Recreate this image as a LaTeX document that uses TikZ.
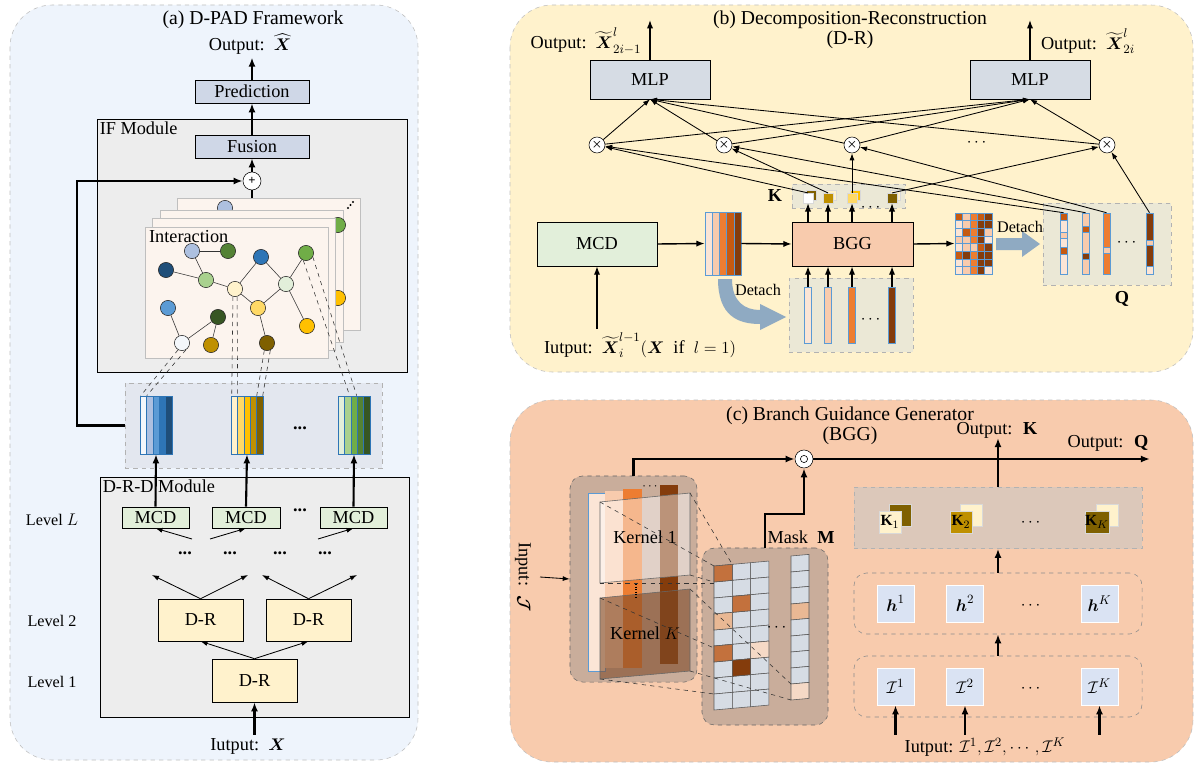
\documentclass[tikz,border=0pt]{standalone}
\usepackage{fontspec}
\setmainfont{Liberation Serif}
\usepackage{amsmath}
\usetikzlibrary{arrows.meta,positioning,calc}

\definecolor{bA}{HTML}{F4F7FB}
\definecolor{bB}{HTML}{ADC0E0}
\definecolor{bC}{HTML}{5B9BD5}
\definecolor{bD}{HTML}{2E75B6}
\definecolor{bE}{HTML}{1F4E79}
\definecolor{yA}{HTML}{FFF2CC}
\definecolor{yB}{HTML}{FFD966}
\definecolor{yC}{HTML}{FFC000}
\definecolor{yD}{HTML}{BF9000}
\definecolor{yE}{HTML}{7F6000}
\definecolor{gA}{HTML}{E2EFDA}
\definecolor{gB}{HTML}{A9D18E}
\definecolor{gC}{HTML}{70AD47}
\definecolor{gD}{HTML}{548235}
\definecolor{gE}{HTML}{375623}
\definecolor{oA}{HTML}{FBE5D6}
\definecolor{oB}{HTML}{F8CBAD}
\definecolor{oC}{HTML}{ED7D31}
\definecolor{oD}{HTML}{C55A11}
\definecolor{oE}{HTML}{843C0C}
\definecolor{panelA}{HTML}{EEF4FC}
\definecolor{panelB}{HTML}{FFF2CC}
\definecolor{panelC}{HTML}{F8CBAD}
\definecolor{modgray}{HTML}{EDEDED}
\definecolor{predblue}{HTML}{CFD7E7}
\definecolor{mlpgray}{HTML}{D6DCE4}
\definecolor{cardbg}{HTML}{FCF4EE}
\definecolor{stripgray}{HTML}{E3E7EF}
\definecolor{kbeige}{HTML}{EBE8D6}
\definecolor{detblue}{HTML}{8FAAC2}
\definecolor{grpbrown}{HTML}{C9AD9B}
\definecolor{kboxc}{HTML}{DCC8BA}
\definecolor{hblue}{HTML}{DAE3F3}
\definecolor{kbrown}{HTML}{7E4A28}
\definecolor{mkA}{HTML}{C3713D}
\definecolor{mkB}{HTML}{E9B894}
\definecolor{mkC}{HTML}{F5D9C6}
\definecolor{mgray}{HTML}{D6DCE4}

\begin{document}
\begin{tikzpicture}[x=0.025cm, y=-0.025cm,
  every node/.style={font=\fontsize{13}{15}\selectfont, inner sep=2pt},
  ttl/.style={font=\fontsize{14}{14.5}\selectfont, align=center},
  small/.style={font=\fontsize{11.5}{13}\selectfont},
  bld/.style={font=\fontsize{13}{15}\selectfont\bfseries},
  panel/.style={draw=black!25, dashed, rounded corners=30pt},
  box/.style={draw, thin, rectangle, inner sep=0pt},
  dbox/.style={draw=black!30, dashed, rectangle, inner sep=0pt},
  rbox/.style={draw=black!60, dashed, rounded corners=9pt, rectangle, inner sep=0pt},
  card/.style={draw=black!25, fill=cardbg},
  gnode/.style={circle, draw=black!85, fill=#1, minimum size=0.38cm, inner sep=0pt},
  gedge/.style={draw=black!80, thin},
  dl/.style={dashed, black!80, thin},
  stripcol/.style={draw=bD, inner sep=0pt, minimum width=0.8cm, minimum height=1.45cm},
  vcol/.style={draw=bC, inner sep=0pt, minimum width=0.175cm, minimum height=#1},
  ksq/.style={draw=black!15, minimum size=0.24cm, inner sep=0pt},
  bsq/.style={draw=black!15, minimum size=0.55cm, inner sep=0pt, font=\fontsize{11}{12}\selectfont},
  hsq/.style={draw=white, fill=hblue, minimum size=0.925cm, inner sep=0pt},
  mul/.style={circle, draw, fill=white, minimum size=0.4cm, inner sep=0pt, font=\footnotesize},
  arr/.style={-{Latex[length=5pt,width=3.6pt]}, line width=0.6pt},
  marr/.style={-{Latex[length=6pt,width=4.5pt]}, line width=1pt},
  barr/.style={-{Latex[length=6.5pt,width=5pt]}, line width=1.5pt}]

  \fill[white] (0,0) rectangle (1202,768);
  \useasboundingbox (0,0) rectangle (1202,768);

  % ===== (a) D-PAD Framework =====
  \draw[panel, fill=panelA] (10,5) rectangle (418,760);
  \node[ttl] (ttlA) at (253,20) {(a) D-PAD Framework};
  \node (outA) at (250,44) {Output:\ \ $\widehat{\boldsymbol{X}}$};
  \node[box, fill=predblue, minimum width=2.85cm, minimum height=0.575cm] (pred) at (252,91.5) {Prediction};
  \draw[barr] (pred.north) -- (pred.north |- outA.south);

  % IF module
  \node[box, fill=modgray, minimum width=7.75cm, minimum height=6.325cm] (ifm) at (252,245.5) {};
  \node[anchor=north west] (ifl) at (ifm.north west) {IF Module};
  \node[box, fill=predblue, minimum width=2.85cm, minimum height=0.575cm] (fus) at (252,146.5) {Fusion};
  \draw[barr] (fus.north) -- (pred.south);
  \node[circle, draw, fill=white, minimum size=0.45cm, inner sep=0pt, font=\small\bfseries] (plus) at (252,181) {+};
  \draw[barr] (plus.north) -- (fus.south);

  % stacked interaction cards
  \draw[card] (177,198) rectangle (360,330);
  \node[gnode=bB] (pb1) at (225,208) {};
  \foreach \d in {0,1,2} \fill ({348+2.5*\d},{208-3*\d}) circle (0.8pt);
  \draw[card] (160,210) rectangle (343,342);
  \node[gnode=gC] (pb2) at (338,225) {};
  \node[gnode=yC] (pb3) at (338,298) {};
  \draw[card] (152,218) rectangle (335,350);
  \draw[card] (145,227) rectangle (328,358);
  \node[anchor=north west] (inter) at (146,227) {Interaction};
  \coordinate (ctop) at (252,198);
  \draw[line width=1.3pt] (ctop) -- (plus.south);

  % graph
  \foreach \n/\x/\y/\c in {g1/192/251/bB, g2/228/251/gD, g3/166/270/bE, g4/206/280/gB,
      g5/261/257/bD, g6/306/253/gC, g7/235/289/yA, g8/286/284/gA, g9/168/308/bC,
      g10/218/317/gE, g11/258/308/yB, g12/307/326/yC, g13/182/343/bA, g14/211/345/yD,
      g15/267/343/yE}
    \node[gnode=\c] (\n) at (\x,\y) {};
  \foreach \a/\b in {g1/g2, g1/g4, g3/g4, g4/g7, g7/g5, g5/g8, g8/g6, g7/g11, g11/g8,
      g8/g12, g9/g13, g10/g13, g10/g14, g11/g15}
    \draw[gedge] (\a) -- (\b);

  % branch features
  \node[dbox, fill=stripgray, minimum width=6.425cm, minimum height=2.125cm] (strip) at (253.5,425.5) {};
  \foreach \n/\x/\ca/\cb/\cc/\cd/\ce in {ca/140/bA/bB/bC/bD/bE, cb/231/yA/yB/yC/yD/yE, cc/338/gA/gB/gC/gD/gE} {
    \foreach \c [count=\i from 0] in {\ca,\cb,\cc,\cd,\ce}
      \draw[bD, fill=\c, line width=0.3pt] ({\x+6.4*\i},396) rectangle ++(6.4,58);
    \node[stripcol] (\n) at ({\x+16},425) {};
  }
  \node (sdots) at (300,428) {\textbf{...}};
  \draw[dl] (g13.240) -- ([xshift=0.025cm]ca.north west);
  \draw[dl] (g13.300) -- ([xshift=0.175cm]ca.north west);
  \draw[dl] (g7.255) -- ([xshift=0.025cm]cb.north west);
  \draw[dl] (g7.285) -- ([xshift=0.175cm]cb.north west);
  \draw[dl] (g15.250) -- ([xshift=0.65cm]cb.north west);
  \draw[dl] (g15.295) -- ([xshift=0.8cm]cb.north west);
  \draw[dl] (g6.250) -- ([xshift=0.3cm]cc.north west);
  \draw[dl] (g6.330) -- ([xshift=0.475cm]cc.north west);
  \draw[barr] (strip.west) -- ++(-48,0) |- (plus.west);

  % D-R-D module
  \node[box, fill=modgray, minimum width=7.725cm, minimum height=6cm] (drd) at (254.5,597) {};
  \node[anchor=north west] (drdl) at (drd.north west) {D-R-D Module};
  \node[box, fill=gA, minimum width=1.675cm, minimum height=0.525cm] (mcd1) at (155.5,517.5) {MCD};
  \node[box, fill=gA, minimum width=1.7cm, minimum height=0.525cm] (mcd2) at (246,517.5) {MCD};
  \node[box, fill=gA, minimum width=1.675cm, minimum height=0.525cm] (mcd3) at (353.5,517.5) {MCD};
  \node (mdots) at (300,510) {\textbf{...}};
  \foreach \m/\c in {mcd1/ca, mcd2/cb, mcd3/cc}
    \draw[barr] (\m.north) -- (\c.south);
  \node[box, fill=yA, minimum width=2.125cm, minimum height=1.05cm] (dr2a) at (200.5,620) {D-R};
  \node[box, fill=yA, minimum width=2.125cm, minimum height=1.05cm] (dr2b) at (308.5,620) {D-R};
  \node[box, fill=yA, minimum width=2.125cm, minimum height=1.075cm] (dr1) at (254.5,680.5) {D-R};
  \foreach \n/\x/\y in {t1/152/575, t2/248/575, t3/262/575, t4/357/575, u1/192/539, u2/210/539, u3/318/539}
    \coordinate (\n) at (\x,\y);
  \draw[arr] (dr2a.north) -- (t1);
  \draw[arr] (dr2a.north) -- (t2);
  \draw[arr] (dr2b.north) -- (t3);
  \draw[arr] (dr2b.north) -- (t4);
  \draw[arr] (u1) -- (mcd1.south);
  \draw[arr] (u2) -- (mcd2.south);
  \draw[arr] (u3) -- (mcd3.south);
  \draw[arr] (dr1.north) -- (dr2a.south);
  \draw[arr] (dr1.north) -- (dr2b.south);
  \foreach \n/\x in {d1/185, d2/230, d3/280, d4/325}
    \node (\n) at (\x,553) {\textbf{...}};
  \node[small] (lvL) at (52,520) {Level $L$};
  \node[small] (lv2) at (52,621) {Level 2};
  \node[small] (lv1) at (52,682) {Level 1};
  \node (inA) at (248,746) {Iutput:\ \ $\boldsymbol{X}$};
  \draw[barr] (inA.north -| dr1.south) -- (dr1.south);

  % ===== (b) Decomposition-Reconstruction =====
  \draw[panel, fill=panelB] (510,5) rectangle (1193,372);
  \node[ttl] (ttlB) at (850,30) {(b) Decomposition-Reconstruction\\(D-R)};
  \node[box, fill=mlpgray, minimum width=3cm, minimum height=0.975cm] (mlpa) at (650,79.5) {MLP};
  \node[box, fill=mlpgray, minimum width=3cm, minimum height=0.975cm] (mlpb) at (1030,79.5) {MLP};
  \node (outb1) at (586,41) {Output:\ \ $\widetilde{\boldsymbol{X}}^{l}_{2i-1}$};
  \node (outb2) at (1088,41) {Output:\ \ $\widetilde{\boldsymbol{X}}^{l}_{2i}$};
  \coordinate (ob1) at (650,20);
  \coordinate (ob2) at (1030,20);
  \draw[marr] (mlpa.north) -- (ob1);
  \draw[marr] (mlpb.north) -- (ob2);

  \foreach \n/\x in {m1/597, m2/724, m3/852, m4/1107}
    \node[mul] (\n) at (\x,145) {$\boldsymbol{\times}$};
  \node (xdots) at (978,143) {$\cdots$};
  \foreach \n in {m1,m2,m3,m4} {
    \draw[arr] (\n) -- (mlpa.south);
    \draw[arr] (\n) -- (mlpb.south);
  }

  % K
  \node[dbox, fill=kbeige, minimum width=2.825cm, minimum height=0.6cm] (kbxb) at (848.5,196) {};
  \node[bld] (klab) at (775,196) {K};
  \foreach \n/\x/\fc/\bk in {k1/808/white/yE, k2/828/yD/yA, k3/852/yB/yC, k4/892/yE/yA} {
    \node[ksq, fill=\bk] (\n b) at ({\x+3},195) {};
    \node[ksq, fill=\fc] (\n) at (\x,198) {};
  }
  \node[small] (kdots) at (872,208) {$\cdots$};

  % BGG
  \node[box, fill=oB, minimum width=3.025cm, minimum height=1.1cm] (bgg) at (852.5,244) {BGG};
  \foreach \n in {k1,k2,k3,k4}
    \draw[marr] (\n.south |- bgg.north) -- (\n.south);
  \node[dbox, fill=kbeige, minimum width=3.1cm, minimum height=1.85cm] (vbx) at (851,315) {};
  \foreach \n/\x/\c in {v1/808/oA, v2/828/oB, v3/852/oC, v4/892/oE} {
    \node[vcol=1.4cm, fill=\c] (\n) at (\x,315) {};
    \draw[marr] (\n.north) -- (\n.north |- bgg.south);
  }
  \node (vdots) at (872,320) {$\cdots$};

  % MCD and features
  \node[box, fill=gA, minimum width=3cm, minimum height=1.1cm] (mcdb) at (597,244) {MCD};
  \node (inb) at (640,345) {Iutput:\ \ $\widetilde{\boldsymbol{X}}^{l-1}_{i}(\boldsymbol{X}\ \ \text{if}\ \ l=1)$};
  \draw[marr] (inb.north -| mcdb.south) -- (mcdb.south);
  \foreach \c [count=\i from 0] in {oA,oB,oC,oD,oE}
    \draw[bC, fill=\c, line width=0.3pt] ({705+7.2*\i},212) rectangle ++(7.2,63);
  \node[draw=bC, minimum width=0.9cm, minimum height=1.575cm, inner sep=0pt] (stk) at (723,243.5) {};
  \draw[marr] (mcdb.east) -- (stk.west);
  \draw[marr] (stk.east) -- (bgg.west);
  \fill[detblue] (718,279) .. controls (718,316) and (738,324) .. (760,324) -- (760,330)
    -- (786,317) -- (760,304) -- (760,310) .. controls (745,310) and (732,302) .. (732,279) -- cycle;
  \node[small] (det1) at (758,290) {Detach};

  % guidance matrix
  \foreach \column [count=\ci from 0] in {{oD,oA,oA,oB,oA,oD,oA,oA},{oB,oB,oD,oB,oB,oE,oB,oB},
      {oC,oC,oC,oC,oB,oC,oC,oC},{oD,oE,oE,oE,oD,oE,oE,oE},{oE,oE,oB,oA,oE,oE,oE,oA}}
    \foreach \cc [count=\ri from 0] in \column
      \draw[bC, fill=\cc, line width=0.3pt] ({955+7.4*\ci},{213+7.625*\ri}) rectangle ++(7.4,7.625);
  \node[draw=bC, minimum width=0.925cm, minimum height=1.525cm, inner sep=0pt] (mat) at (973.5,243.5) {};
  \draw[marr] (bgg.east) -- (mat.west);
  \fill[detblue] (996,238) -- (1022,238) -- (1022,231) -- (1040,244) -- (1022,257) -- (1022,250) -- (996,250) -- cycle;
  \node[small] (det2) at (1020,227) {Detach};

  % Q
  \node[dbox, fill=kbeige, minimum width=3.2cm, minimum height=2.05cm] (qbx) at (1107,244) {};
  \node[bld] (qlab) at (1122,299) {Q};
  \foreach \x/\ya/\yb/\c in {1060/213/220/oD, 1060/220/232/oA, 1060/232/238/oB, 1060/238/247/oA,
      1060/247/254/oD, 1060/254/274/oA, 1082/213/226/oB, 1082/226/232/oD, 1082/232/253/oB,
      1082/253/259/oE, 1082/259/274/oB, 1103/213/247/oC, 1103/247/253/oB, 1103/253/274/oC,
      1146/213/240/oE, 1146/240/245/oB, 1146/245/266/oE, 1146/266/274/oA}
    \draw[bC, fill=\c, line width=0.3pt] (\x,\ya) rectangle ({\x+7},\yb);
  \foreach \n/\x in {q1/1063.5, q2/1085.5, q3/1106.5, q4/1149.5}
    \node[vcol=1.525cm] (\n) at (\x,243.5) {};
  \node (qdots) at (1128,243) {$\cdots$};
  \foreach \a/\b in {k1/m1, k2/m2, k3/m3, k4/m4, q1/m1, q2/m2, q3/m3, q4/m4}
    \draw[arr] (\a.north) -- (\b);

  % ===== (c) Branch Guidance Generator =====
  \draw[panel, fill=panelC] (510,400) rectangle (1193,762);
  \node[ttl] (ttlC) at (850,426) {(c) Branch Guidance Generator\\(BGG)};

  % input with kernels
  \node[rbox, fill=grpbrown, minimum width=3.175cm, minimum height=5.15cm] (grp) at (633.5,579) {};
  \draw[bC, fill=oA, line width=0.3pt] (588,493) rectangle (605,671);
  \fill[oB] (605,491) rectangle (623,668);
  \fill[oC] (623,489) rectangle (642,668);
  \fill[oE] (660,485) rectangle (678,664);
  \node (gdots) at (651,487) {\small$\cdots$};
  \filldraw[draw=black!60, fill=white, fill opacity=0.45] (600,502) -- (690,493) -- (690,575) -- (600,583) -- cycle;
  \filldraw[draw=black!60, fill=kbrown, fill opacity=0.6] (600,598) -- (690,589) -- (690,671) -- (600,679) -- cycle;
  \node (kl1) at (645,537) {Kernel 1};
  \node (klk) at (645,633) {Kernel $K$};
  \draw[densely dotted, thick] (636,584) -- (636,597);
  \coordinate (ij) at (540,577);
  \draw[arr] (ij) -- (grp.west);
  \node[rotate=-90] (inJ) at (523,577) {Input:\ \ $\boldsymbol{\mathcal{J}}$};

  % mask
  \node[rbox, fill=grpbrown, minimum width=3.15cm, minimum height=4.425cm] (mgrp) at (765,636.5) {};
  \node (mlab) at (801,537) {Mask \ \textbf{M}};
  \begin{scope}[shift={(714,566)}, yslant=0.09]
    \foreach \ci in {0,1,2}
      \foreach \ri in {0,...,8}
        \draw[black!65, fill=mgray] ({18.3*\ci},{16*\ri}) -- ++(18.3,0) -- ++(0,16) -- ++(-18.3,0) -- cycle;
    \foreach \ci/\ri/\cc in {0/0/mkA, 1/2/mkA, 0/3/mkB, 0/5/mkA, 2/5/mkC, 1/6/oE}
      \draw[black!65, fill=\cc] ({18.3*\ci},{16*\ri}) -- ++(18.3,0) -- ++(0,16) -- ++(-18.3,0) -- cycle;
  \end{scope}
  \begin{scope}[shift={(791,556)}, yslant=0.09]
    \foreach \ri/\cc in {0/mgray, 1/mgray, 2/mgray, 3/mkB, 4/mgray, 5/mgray, 6/mgray, 7/mgray, 8/mkC}
      \draw[black!65, fill=\cc] (0,{16*\ri}) -- ++(18,0) -- ++(0,16) -- ++(-18,0) -- cycle;
  \end{scope}
  \node (mdots2) at (778,628) {$\cdots$};
  \draw[dl] (600,583) -- (714,583);
  \draw[dl] (600,502) -- (714,566);
  \draw[dl] (690,493) -- (732,564);
  \draw[dl] (690,575) -- (714,582);
  \draw[dl] (600,598) -- (714,648);
  \draw[dl] (690,589) -- (791,684);
  \draw[dl] (690,671) -- (791,700);
  \draw[dl] (600,679) -- (714,694);

  % element-wise product
  \node[circle, draw, fill=white, minimum size=0.45cm, inner sep=0pt] (od) at (804,459) {};
  \draw (od.center) circle (0.09cm);
  \draw[barr] (grp.north) |- (od.west);
  \draw[barr] (mgrp.north) -- ++(0,-34) -| (od.south);
  \coordinate (oq) at (1150,459);
  \draw[barr] (od.east) -- (oq);
  \node (oqlab) at (1108,443) {Output: \ \textbf{Q}};

  % K, h, I rows
  \node[dbox, fill=kboxc, minimum width=7.2cm, minimum height=1.525cm] (kbx) at (998,518) {};
  \coordinate (ok) at (998,438);
  \draw[barr] (kbx.north) -- (ok);
  \node (oklab) at (997,430) {Output: \ \textbf{K}};
  \foreach \n/\x/\fc/\bk/\t in {kk1/890/yA/yE/1, kk2/961/yD/yA/2, kkk/1097/yE/yA/K} {
    \node[bsq, fill=\bk] (\n b) at ({\x+10},515) {};
    \node[bsq, fill=\fc] (\n) at (\x,522) {$\mathbf{K}_{\t}$};
  }
  \node (kdots2) at (1032,523) {$\cdots$};

  \node[rbox, draw=black!45, minimum width=7.2cm, minimum height=1.525cm] (hbx) at (998,603.5) {};
  \foreach \n/\x/\t in {hh1/895.5/1, hh2/965/2, hhk/1099.5/K}
    \node[hsq] (\n) at (\x,603.5) {$\boldsymbol{h}^{\t}$};
  \node (hdots) at (1032,606) {$\cdots$};
  \draw[barr] (hbx.north) -- (kbx.south);

  \node[rbox, draw=black!45, minimum width=7.2cm, minimum height=1.525cm] (ibx) at (998,686.5) {};
  \foreach \n/\x/\t in {ii1/895.5/1, ii2/965/2, iik/1099.5/K}
    \node[hsq] (\n) at (\x,686.5) {$\mathcal{I}^{\t}$};
  \node (idots) at (1032,689) {$\cdots$};
  \draw[barr] (ibx.north) -- (hbx.south);
  \node (inC) at (985,747) {Iutput: $\mathcal{I}^1,\mathcal{I}^2,\cdots,\mathcal{I}^K$};
  \foreach \n in {ii1,ii2,iik}
    \draw[barr] (inC.north -| \n.south) -- (\n.south);
\end{tikzpicture}
\end{document}
